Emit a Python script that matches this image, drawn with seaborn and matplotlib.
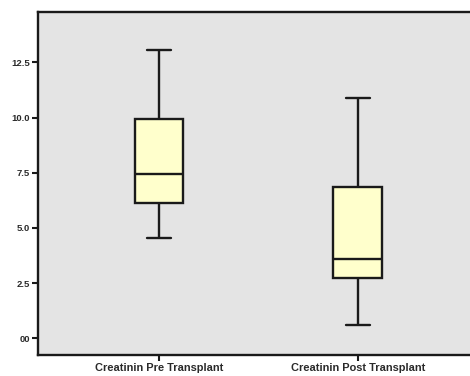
import numpy as np
import pandas as pd
import matplotlib
matplotlib.use("Agg")
import matplotlib.pyplot as plt
import seaborn as sns

# Serum creatinin summary values (min, Q1, median, Q3, max) per group
groups = ["Creatinin Pre Transplant", "Creatinin Post Transplant"]
pre_values = [4.56, 6.14, 7.43, 9.93, 13.07]
post_values = [0.62, 2.73, 3.61, 6.85, 10.88]
y_ticks = [0.0, 2.5, 5.0, 7.5, 10.0, 12.5]
y_tick_labels = ["00", "2.5", "5.0", "7.5", "10.0", "12.5"]

df = pd.DataFrame({
    "group": [groups[0]] * len(pre_values) + [groups[1]] * len(post_values),
    "value": pre_values + post_values,
})

sns.set_style("white")
plt.rcParams["font.family"] = ["Liberation Sans", "DejaVu Sans"]

fig = plt.figure(figsize=(4.7, 3.76), dpi=100)
ax = fig.add_axes([0.0809, 0.055, 0.938, 0.913])
ax.set_facecolor("#E4E4E4")

line_kw = dict(color="#1a1a1a", linewidth=1.7)
sns.boxplot(
    data=df, x="group", y="value", order=groups, ax=ax,
    width=0.246, whis=np.inf, color="#FFFFCC", saturation=1,
    boxprops=dict(facecolor="#FFFFCC", edgecolor="#1a1a1a", linewidth=1.7),
    medianprops=line_kw, whiskerprops=line_kw, capprops=line_kw,
    linecolor="#1a1a1a", linewidth=1.7,
)

ax.set_xlim(-0.608, 1.608)
ax.set_ylim(-0.77, 14.78)
ax.set_yticks(y_ticks)
ax.set_yticklabels(y_tick_labels)
ax.set_xlabel("")
ax.set_ylabel("")

for sp in ax.spines.values():
    sp.set_visible(True)
    sp.set_color("#1a1a1a")
    sp.set_linewidth(1.7)

ax.tick_params(axis="both", direction="out", length=4, width=1.5,
               color="#1a1a1a", labelcolor="#2a2a2a", pad=2)
ax.tick_params(axis="y", left=True, labelsize=6.8)
ax.tick_params(axis="x", bottom=True, labelsize=7.9, pad=1.5)
for lab in ax.get_yticklabels() + ax.get_xticklabels():
    lab.set_fontweight("bold")

fig.savefig("out.png", dpi=100)
